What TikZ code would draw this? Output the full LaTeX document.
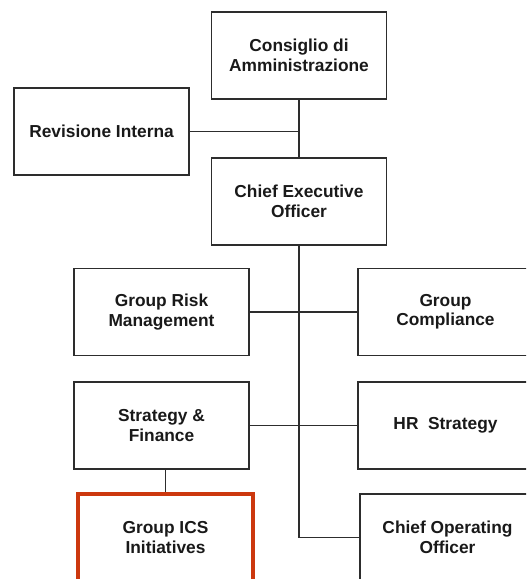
\documentclass[tikz,border=0pt]{standalone}
\usepackage{fontspec}
\setmainfont{Liberation Sans}
\usepackage{tikz}
\usetikzlibrary{positioning}

\definecolor{icsred}{RGB}{204,56,14}
\definecolor{linegray}{RGB}{45,45,45}

\tikzset{
  unit/.style={draw=linegray, line width=1.1pt, rectangle, align=center,
    minimum width=131.25pt, minimum height=65.25pt, inner sep=0pt,
    text=black!90, font=\fontsize{13}{14.6}\selectfont\bfseries},
  focus/.style={unit, draw=icsred, line width=2.6pt},
  link/.style={draw=linegray, line width=0.8pt}
}

\begin{document}
\begin{tikzpicture}[x=0.75pt, y=-0.75pt, on grid]
   \clip (0,0) rectangle (526,579);
   \useasboundingbox (0,0) rectangle (526,579);

   \node[unit] (board) at (299,55.5) {Consiglio di\\Amministrazione};
   \node[unit] (ceo)   [below=109.5pt of board]  {Chief Executive\\Officer};
   \node[unit] (audit) at (101.5,131.5) {Revisione Interna};
   \node[unit] (risk)  at (161.5,312) {Group Risk\\Management};
   \node[unit] (comp)  [right=213pt of risk]  {Group\\Compliance};
   \node[unit] (fin)   [below=85.1pt of risk] {Strategy \&\\Finance};
   \node[unit] (hr)    [right=213pt of fin]   {HR~~Strategy};
   \node[focus] (ics)  at (165.5,537.5) {Group ICS\\Initiatives};
   \node[unit] (coo)   [right=211.5pt of ics] {Chief Operating\\Officer};

   \path[link]
    (board) edge (ceo)
    (audit.east) edge (audit.east -| board)
    (risk) edge (comp)
    (fin) edge (hr)
    (fin.south -| ics) edge (ics.north);
   \draw[link] (ceo.south) |- (coo.west);
\end{tikzpicture}
\end{document}
